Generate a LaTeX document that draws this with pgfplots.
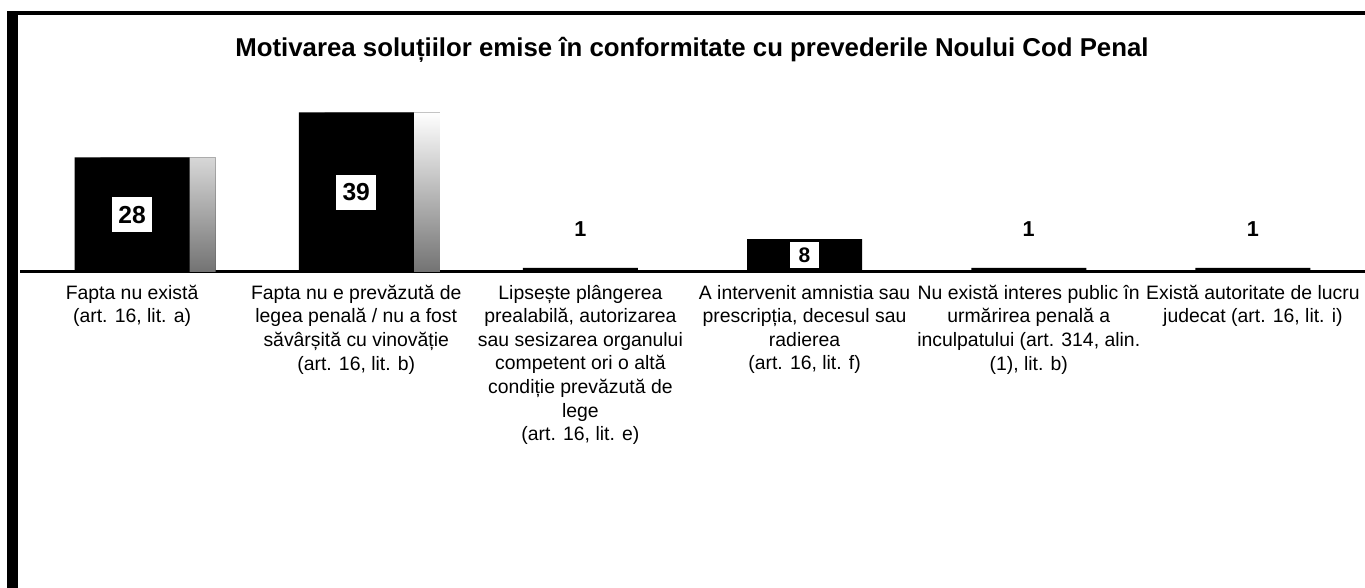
\documentclass[border=0pt]{standalone}
\usepackage{fontspec}
\setmainfont{Liberation Sans}
\usepackage{pgfplots}
\pgfplotsset{compat=1.18}
\begin{document}
\begin{tikzpicture}
\useasboundingbox (0,0) rectangle (682.5pt,294pt);
% scanned frame
\fill[black] (3.5pt,0) rectangle (9pt,288.5pt);
\draw[line width=2pt] (3.5pt,287.5pt) -- (682.5pt,287.5pt);
\node[anchor=base, inner sep=0pt] at (346pt,265.5pt)
  {\fontsize{12.9pt}{15pt}\selectfont\bfseries Motivarea soluțiilor emise în conformitate cu prevederile Noului Cod Penal};
\begin{axis}[
  at={(10pt,158pt)}, anchor=south west,
  scale only axis, width=672.5pt, height=86pt,
  xmin=-0.5, xmax=5.5, ymin=0, ymax=42,
  axis x line=bottom, axis y line=none,
  x axis line style={line width=1.5pt, -},
  ytick=\empty,
  xtick={0,1,2,3,4,5},
  major tick length=0pt,
  xticklabels={
    {Fapta nu există\\(art. 16, lit. a)},
    {Fapta nu e prevăzută de\\legea penală / nu a fost\\săvârșită cu vinovăție\\(art. 16, lit. b)},
    {Lipsește plângerea\\prealabilă, autorizarea\\sau sesizarea organului\\competent ori o altă\\condiție prevăzută de\\lege\\(art. 16, lit. e)},
    {A intervenit amnistia sau\\prescripția, decesul sau\\radierea\\(art. 16, lit. f)},
    {Nu există interes public în\\urmărirea penală a\\inculpatului (art. 314, alin.\\(1), lit. b)},
    {Există autoritate de lucru\\judecat (art. 16, lit. i)}},
  xticklabel style={font=\fontsize{9.7pt}{11.8pt}\selectfont, align=center, anchor=north, yshift=-3pt},
  ybar, bar width=57.5pt,
  clip=false,
]
\addplot[fill=black, draw=none, bar shift=0pt,
  preaction={transform canvas={xshift=13pt}, top color=white, bottom color=black!55, draw=none}]
  coordinates {(0,28) (1,39)};
\addplot[fill=black, draw=none, bar shift=0pt]
  coordinates {(2,1) (3,8) (4,1) (5,1)};
\end{axis}
\begin{axis}[
  at={(10pt,158pt)}, anchor=south west,
  scale only axis, width=672.5pt, height=86pt,
  xmin=-0.5, xmax=5.5, ymin=0, ymax=42,
  hide axis, clip=false,
  nodes near coords, point meta=explicit symbolic,
  every node near coord/.append style={anchor=center},
]
\addplot[only marks, mark=none,
  nodes near coords style={fill=white, inner sep=0pt, minimum width=20pt, minimum height=17.5pt, font=\fontsize{12.3pt}{14pt}\selectfont\bfseries}]
  table[meta=label] {
x y label
0 14 28
1 19.5 39
};
\addplot[only marks, mark=none,
  nodes near coords style={fill=white, inner sep=0pt, minimum width=14.5pt, minimum height=13pt, font=\fontsize{10.5pt}{12pt}\selectfont\bfseries}]
  table[meta=label] {
x y label
3 4.2 8
};
\addplot[only marks, mark=none,
  nodes near coords style={inner sep=0pt, font=\fontsize{10.8pt}{12pt}\selectfont\bfseries}]
  table[meta=label] {
x y label
2 10.5 1
4 10.5 1
5 10.5 1
};
\end{axis}
\end{tikzpicture}
\end{document}
